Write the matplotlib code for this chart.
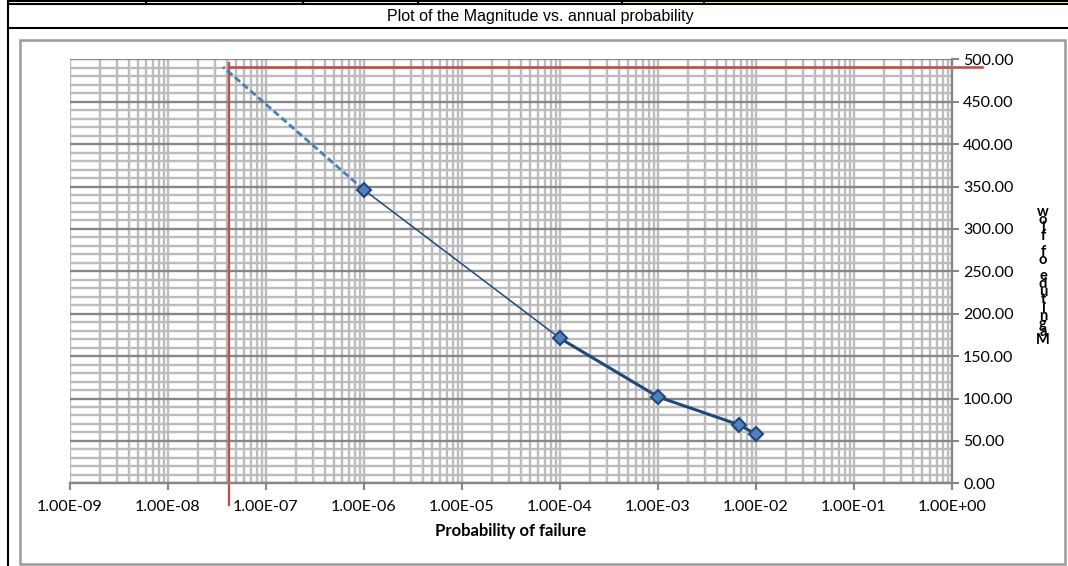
import numpy as np
import matplotlib
matplotlib.use("Agg")
from matplotlib import pyplot as plt
from matplotlib.lines import Line2D
from matplotlib.patches import Rectangle
from matplotlib.ticker import LogLocator, MultipleLocator, FixedLocator

# datos
prob = [1e-6, 1e-4, 1e-3, 6.7e-3, 1e-2]
magnitud = [346, 171, 102, 69, 58]

# extrapolacion (linea discontinua)
prob_ext = [1e-6, 3.65e-8]
mag_ext = [346, 491]

# lineas rojas de referencia
prob_lim = 4.2e-8
mag_lim = 490.5

xticks = [1e-9, 1e-8, 1e-7, 1e-6, 1e-5, 1e-4, 1e-3, 1e-2, 1e-1, 1e0]
yticks = [0, 50, 100, 150, 200, 250, 300, 350, 400, 450, 500]

titulo = "Plot of the Magnitude vs. annual probability"
xlabel = "Probability of failure"
ylabel = "Magnitude of flow"

W, H = 1068, 566
fig = plt.figure(figsize=(W / 100, H / 100), dpi=100)


def fx(px):
    return px / W


def fy(py):
    return 1 - py / H


def linea(x0, y0, x1, y1, color="black", lw=1.5):
    fig.add_artist(Line2D([fx(x0), fx(x1)], [fy(y0), fy(y1)], color=color,
                          lw=lw, transform=fig.transFigure, solid_capstyle="butt"))


# celdas de la hoja de calculo (fila superior)
fig.add_artist(Rectangle((fx(622), fy(3.5)), fx(1068) - fx(622), fy(0) - fy(3.5),
                         transform=fig.transFigure, color="#FFFFB0", lw=0))
linea(8, 0.5, 1068, 0.5)
linea(8, 3.5, 1068, 3.5)
for xc in [146, 303, 418, 622, 704]:
    linea(xc, 0, xc, 3.5)
linea(8, 28, 1068, 28)
linea(8, 0, 8, 566)
fig.text(fx(540), fy(16.5), titulo, ha="center", va="center",
         family="Liberation Sans", fontsize=11.5)

# marco del grafico
fig.add_artist(Rectangle((fx(20), fy(564)), fx(1065) - fx(20), fy(40) - fy(564),
                         transform=fig.transFigure, fill=False,
                         edgecolor="#9A9A9A", lw=1.8))

ax = fig.add_axes([fx(70), fy(483.3), fx(952) - fx(70), fy(59.3) - fy(483.3)])
ax.set_xscale("log")
ax.set_xlim(1e-9, 1)
ax.set_ylim(0, 500)

# rejilla
ax.xaxis.set_major_locator(FixedLocator(xticks))
ax.xaxis.set_minor_locator(LogLocator(base=10, subs=np.arange(2, 10), numticks=20))
ax.yaxis.set_major_locator(FixedLocator(yticks))
ax.yaxis.set_minor_locator(MultipleLocator(10))
ax.grid(which="minor", axis="both", color="#BCBCBC", lw=1.7)
ax.grid(which="major", axis="x", color="#BCBCBC", lw=1.7)
ax.grid(which="major", axis="y", color="#878787", lw=1.7)
ax.set_axisbelow(True)

for s in ["left", "top"]:
    ax.spines[s].set_visible(False)
for s in ["right", "bottom"]:
    ax.spines[s].set_color("#868686")
    ax.spines[s].set_linewidth(1.7)

ax.yaxis.tick_right()
ax.tick_params(which="minor", length=0)
ax.tick_params(which="major", length=5, width=1.5, color="#868686",
               labelsize=11.5, labelcolor="black")
ax.set_xticklabels(["%.2E" % v for v in xticks], family="Lato")
ax.set_yticklabels(["%.2f" % v for v in yticks], family="Lato")
ax.tick_params(axis="x", pad=7)
ax.tick_params(axis="y", pad=3)

# lineas rojas
ax.plot([prob_lim, prob_lim], [-26, 496], color="#C0504D", lw=1.7, clip_on=False)
ax.plot([prob_lim, 2.0], [mag_lim, mag_lim], color="#C0504D", lw=1.9, clip_on=False)

# serie
ax.plot(prob_ext, mag_ext, color="#4A7EBB", lw=2, ls=(0, (2.5, 1.2)))
ax.plot(prob, magnitud, color="#1F497D", lw=1.1)
ax.plot(prob[1:], magnitud[1:], color="#1F497D", lw=2.2)
ax.plot(prob, magnitud, ls="none", marker="D", ms=7.5, mfc="#4F81BD",
        mec="#1F497D", mew=1.5)

# etiquetas de ejes
fig.text(fx(511), fy(531), xlabel, ha="center", va="center", family="Lato",
         fontweight="bold", fontsize=12)
fig.text(fx(1043), fy(276), "\n".join(reversed(ylabel)), ha="center", va="center",
         family="Lato", fontweight="bold", fontsize=10.5, linespacing=0.46)

fig.savefig("out.png", dpi=100)
